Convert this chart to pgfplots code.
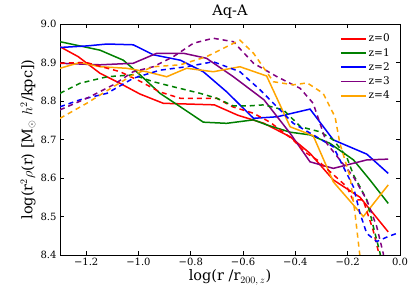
\documentclass[border=0pt]{standalone}
\usepackage{fontspec}
\setmainfont{DejaVu Serif}
\usepackage{pgfplots}
\pgfplotsset{compat=1.18}
\definecolor{mred}{RGB}{255,0,0}
\definecolor{mgreen}{RGB}{0,128,0}
\definecolor{mblue}{RGB}{0,0,255}
\definecolor{mpurple}{RGB}{128,0,128}
\definecolor{morange}{RGB}{255,165,0}
\begin{document}
\begin{tikzpicture}
\begin{axis}[
  scale only axis, width=340pt, height=231pt,
  xmin=-1.3, xmax=0.0, ymin=8.4, ymax=9.0,
  xtick={-1.2,-1.0,-0.8,-0.6,-0.4,-0.2,0.0},
  xticklabels={−1.2,−1.0,−0.8,−0.6,−0.4,−0.2,0.0},
  ytick={8.4,8.5,8.6,8.7,8.8,8.9,9.0},
  yticklabels={8.4,8.5,8.6,8.7,8.8,8.9,9.0},
  tick align=inside, major tick length=4pt,
  tick style={black, line width=0.7pt},
  axis line style={line width=0.8pt},
  ticklabel style={font=\fontsize{10}{12}\selectfont},
  title={Aq-A}, title style={font=\fontsize{14.5}{16}\selectfont, yshift=-4pt},
  xlabel={log(r /r$_{200,\,z}$)},
  ylabel={log(r$^2\rho$(r) [M$_\odot$ $h^2$/kpc])},
  label style={font=\fontsize{14.5}{16}\selectfont},
  xlabel style={yshift=3pt},
  ylabel style={yshift=-2pt},
  every axis plot/.append style={line width=1.5pt},
  legend style={draw=none, fill=none, at={(0.985,0.975)}, anchor=north east,
    font=\fontsize{10.5}{12}\selectfont, row sep=1pt},
  legend cell align=left,
  legend image code/.code={\draw[#1, line width=1.8pt] (0pt,0pt) -- (25pt,0pt);},
]
% solid
\addplot[mred] coordinates {(-1.3,8.941) (-1.23,8.915) (-1.147,8.872) (-1.071,8.846) (-0.994,8.818) (-0.905,8.794) (-0.71,8.790) (-0.62,8.763) (-0.52,8.742) (-0.42,8.707) (-0.344,8.664) (-0.255,8.595) (-0.153,8.55) (-0.045,8.46)};
\addlegendentry{z=0}
\addplot[mgreen] coordinates {(-1.3,8.954) (-1.147,8.932) (-1.058,8.906) (-0.994,8.868) (-0.918,8.82) (-0.84,8.785) (-0.752,8.745) (-0.663,8.742) (-0.56,8.751) (-0.51,8.738) (-0.42,8.719) (-0.344,8.712) (-0.268,8.69) (-0.178,8.647) (-0.115,8.595) (-0.045,8.534)};
\addlegendentry{z=1}
\addplot[mblue] coordinates {(-1.3,8.939) (-1.198,8.943) (-1.12,8.948) (-1.02,8.946) (-0.943,8.92) (-0.84,8.906) (-0.752,8.876) (-0.663,8.824) (-0.56,8.755) (-0.47,8.759) (-0.344,8.779) (-0.255,8.699) (-0.127,8.662) (-0.045,8.612)};
\addlegendentry{z=2}
\addplot[mpurple] coordinates {(-1.3,8.898) (-1.147,8.894) (-1.02,8.898) (-0.93,8.924) (-0.828,8.924) (-0.74,8.911) (-0.637,8.863) (-0.52,8.803) (-0.42,8.716) (-0.344,8.642) (-0.255,8.625) (-0.127,8.647) (-0.045,8.649)};
\addlegendentry{z=3}
\addplot[morange] coordinates {(-1.3,8.885) (-1.224,8.9) (-1.147,8.889) (-1.045,8.885) (-0.969,8.876) (-0.892,8.863) (-0.816,8.885) (-0.714,8.876) (-0.612,8.889) (-0.51,8.865) (-0.42,8.733) (-0.332,8.71) (-0.255,8.59) (-0.14,8.50) (-0.045,8.582)};
\addlegendentry{z=4}
% dashed
\addplot[mred, dash pattern=on 5pt off 4pt, forget plot] coordinates {(-1.3,8.898) (-1.2,8.90) (-1.07,8.876) (-0.99,8.85) (-0.92,8.824) (-0.84,8.807) (-0.70,8.807) (-0.64,8.785) (-0.56,8.768) (-0.497,8.745) (-0.41,8.70) (-0.363,8.667) (-0.317,8.647) (-0.203,8.577) (-0.18,8.543) (-0.141,8.543) (-0.103,8.465) (-0.084,8.413) (-0.075,8.39)};
\addplot[mgreen, dash pattern=on 5pt off 4pt, forget plot] coordinates {(-1.3,8.82) (-1.224,8.846) (-1.12,8.863) (-1.02,8.868) (-0.943,8.85) (-0.867,8.837) (-0.765,8.82) (-0.70,8.807) (-0.637,8.787) (-0.586,8.787) (-0.52,8.79) (-0.446,8.777) (-0.38,8.733) (-0.306,8.72) (-0.255,8.699) (-0.204,8.655) (-0.178,8.608) (-0.153,8.577) (-0.127,8.543) (-0.102,8.474) (-0.076,8.404) (-0.07,8.38)};
\addplot[mblue, dash pattern=on 5pt off 4pt, forget plot] coordinates {(-1.3,8.785) (-1.224,8.803) (-1.12,8.82) (-1.02,8.859) (-0.918,8.88) (-0.816,8.889) (-0.714,8.902) (-0.612,8.876) (-0.535,8.829) (-0.459,8.777) (-0.408,8.742) (-0.332,8.712) (-0.255,8.681) (-0.204,8.612) (-0.178,8.577) (-0.153,8.508) (-0.127,8.456) (-0.089,8.435) (-0.045,8.448) (-0.013,8.456)};
\addplot[mpurple, dash pattern=on 5pt off 4pt, forget plot] coordinates {(-1.3,8.777) (-1.198,8.807) (-1.096,8.842) (-1.02,8.876) (-0.943,8.889) (-0.867,8.915) (-0.79,8.95) (-0.714,8.963) (-0.637,8.954) (-0.56,8.898) (-0.47,8.863) (-0.382,8.833) (-0.332,8.794) (-0.28,8.69) (-0.23,8.647) (-0.178,8.603) (-0.127,8.543) (-0.089,8.474) (-0.064,8.404) (-0.06,8.38)};
\addplot[morange, dash pattern=on 5pt off 4pt, forget plot] coordinates {(-1.3,8.755) (-1.198,8.794) (-1.096,8.837) (-1.02,8.868) (-0.943,8.889) (-0.84,8.894) (-0.74,8.915) (-0.663,8.941) (-0.612,8.958) (-0.56,8.924) (-0.484,8.85) (-0.408,8.842) (-0.355,8.847) (-0.294,8.82) (-0.248,8.758) (-0.23,8.69) (-0.191,8.603) (-0.172,8.508) (-0.153,8.396) (-0.15,8.37)};
\end{axis}
\pgfresetboundingbox
\path[use as bounding box] ([shift={(-60pt,-46pt)}]current axis.south west) rectangle ([shift={(15pt,24pt)}]current axis.north east);
\end{tikzpicture}
\end{document}
